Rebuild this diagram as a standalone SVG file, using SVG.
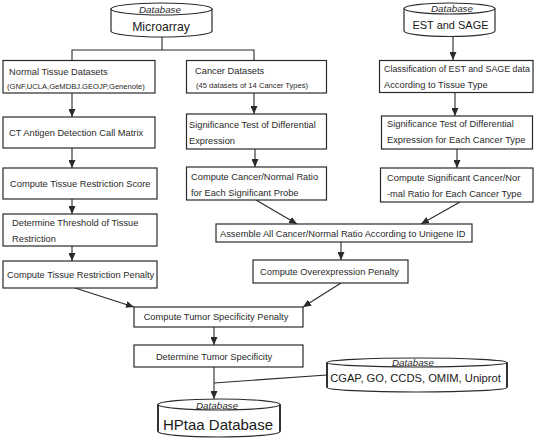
<svg xmlns="http://www.w3.org/2000/svg" width="535" height="438" viewBox="0 0 535 438">
<style>
.bg{fill:#fff}
.box{fill:#fff;stroke:#2a2a2a;stroke-width:1.2}
.cyl{fill:#fff;stroke:#2a2a2a;stroke-width:1.2}
.side{stroke:#2a2a2a;stroke-width:1.8;fill:none}
.t{font-family:"Liberation Sans",Arial,sans-serif;font-size:9.3px;fill:#2a2a2a}
.s{font-family:"Liberation Sans",Arial,sans-serif;font-size:7.6px;fill:#2a2a2a}
.db{font-family:"Liberation Sans",Arial,sans-serif;font-style:italic;font-size:9.8px;fill:#2a2a2a;text-anchor:middle}
.big{font-family:"Liberation Sans",Arial,sans-serif;fill:#1a1a1a;text-anchor:middle}
.c{text-anchor:middle}
.ln{stroke:#2a2a2a;stroke-width:1.1;fill:none}
.ar{stroke:#2a2a2a;stroke-width:1.1;fill:none;marker-end:url(#ah)}
</style>
<defs>
<marker id="ah" markerUnits="userSpaceOnUse" markerWidth="8" markerHeight="7" refX="8" refY="3.5" orient="auto">
<path d="M0,0 L8,3.5 L0,7 z" fill="#2a2a2a"/>
</marker>
</defs>
<rect class="bg" x="0" y="0" width="535" height="438"/>

<g id="connectors">
<polyline class="ln" points="162,37 162,50"/>
<polyline class="ln" points="72,60 72,50 254,50 254,60"/>
<line class="ar" x1="72" y1="93" x2="72" y2="117"/>
<line class="ar" x1="72" y1="148" x2="72" y2="168"/>
<line class="ar" x1="72" y1="199" x2="72" y2="214"/>
<line class="ar" x1="72" y1="246" x2="72" y2="261"/>
<line class="ar" x1="254" y1="93" x2="254" y2="114"/>
<line class="ar" x1="255" y1="149" x2="255" y2="167"/>
<line class="ar" x1="453" y1="37" x2="453" y2="60"/>
<line class="ar" x1="455" y1="92" x2="455" y2="116"/>
<line class="ar" x1="457" y1="149" x2="457" y2="168"/>
<line class="ar" x1="256" y1="200" x2="297" y2="224"/>
<line class="ar" x1="460" y1="202" x2="421" y2="224"/>
<line class="ar" x1="341" y1="242" x2="341" y2="260"/>
<line class="ar" x1="341" y1="283" x2="303" y2="307"/>
<line class="ar" x1="72" y1="287" x2="134" y2="307"/>
<line class="ar" x1="214" y1="327" x2="214" y2="345"/>
<line class="ar" x1="214" y1="367" x2="214" y2="399"/>
<line class="ln" x1="327" y1="375" x2="214" y2="383"/>
</g>

<g id="microarray">
<path class="cyl" d="M111,9 L111,31 A50.5,6 0 0 0 212,31 L212,9"/>
<ellipse class="cyl" cx="161.5" cy="9" rx="50.5" ry="6"/>
<text class="db" x="160" y="13">Database</text>
<text class="big" x="161" y="31" font-size="12.2">Microarray</text>
</g>

<g id="est-sage">
<path class="cyl" d="M404,8.5 L404,31 A45.5,5.5 0 0 0 495,31 L495,8.5"/>
<ellipse class="cyl" cx="449.5" cy="8.5" rx="45.5" ry="5.5"/>
<text class="db" x="452" y="12">Database</text>
<text class="big" x="450.5" y="29" font-size="11">EST and SAGE</text>
</g>

<g id="normal-tissue">
<rect class="box" x="3" y="60.5" width="152" height="32.5"/>
<text class="t" x="9" y="75">Normal Tissue Datasets</text>
<text class="s" x="7" y="89">(GNF,UCLA,GeMDBJ.GEOJP,Genenote)</text>
</g>

<g id="cancer-datasets">
<rect class="box" x="186.5" y="60.5" width="140" height="32.5"/>
<text class="t" x="195" y="74">Cancer Datasets</text>
<text class="s" x="196" y="88">(45 datasets of 14 Cancer Types)</text>
</g>

<g id="classification">
<rect class="box" x="379.5" y="60.5" width="153.5" height="32"/>
<text class="t" x="384" y="72" style="font-size:8.9px">Classification of EST and SAGE data</text>
<text class="t" x="384" y="88">According to Tissue Type</text>
</g>

<g id="ct-antigen">
<rect class="box" x="3" y="117" width="152" height="31"/>
<text class="t" x="9" y="135.5">CT Antigen Detection Call Matrix</text>
</g>

<g id="sig-test">
<rect class="box" x="186.5" y="114" width="140" height="35"/>
<text class="t" x="189" y="128">Significance Test of Differential</text>
<text class="t" x="189" y="144">Expression</text>
</g>

<g id="sig-test-right">
<rect class="box" x="381.5" y="116" width="151" height="33"/>
<text class="t" x="387" y="127">Significance Test of Differential</text>
<text class="t" x="387" y="143">Expression for Each Cancer Type</text>
</g>

<g id="tissue-score">
<rect class="box" x="3" y="168" width="154" height="31"/>
<text class="t" x="10" y="187">Compute Tissue Restriction Score</text>
</g>

<g id="cancer-normal-ratio">
<rect class="box" x="186.5" y="167" width="140" height="33"/>
<text class="t" x="191" y="180">Compute Cancer/Normal Ratio</text>
<text class="t" x="191" y="196">for Each Significant Probe</text>
</g>

<g id="sig-ratio">
<rect class="box" x="380.5" y="168" width="152.5" height="34"/>
<text class="t" x="387" y="181">Compute Significant Cancer/Nor</text>
<text class="t" x="387" y="197">-mal Ratio for Each Cancer Type</text>
</g>

<g id="threshold">
<rect class="box" x="3" y="214" width="154" height="32"/>
<text class="t" x="12" y="226">Determine Threshold of Tissue</text>
<text class="t" x="12" y="242">Restriction</text>
</g>

<g id="assemble">
<rect class="box" x="216" y="224" width="256" height="18"/>
<text class="t" x="220" y="236.5">Assemble All Cancer/Normal Ratio According to Unigene ID</text>
</g>

<g id="tissue-penalty">
<rect class="box" x="3" y="261" width="154" height="27"/>
<text class="t" x="7" y="278">Compute Tissue Restriction Penalty</text>
</g>

<g id="overexpression">
<rect class="box" x="253" y="260" width="155" height="23"/>
<text class="t" x="260" y="275">Compute Overexpression Penalty</text>
</g>

<g id="tumor-penalty">
<rect class="box" x="134" y="307" width="169" height="20"/>
<text class="t c" x="216" y="320">Compute Tumor Specificity Penalty</text>
</g>

<g id="tumor-specificity">
<rect class="box" x="134" y="345" width="169" height="22"/>
<text class="t c" x="214" y="360">Determine Tumor Specificity</text>
</g>

<g id="cgap">
<path class="cyl" d="M327,362.5 L327,387.5 A90,4.5 0 0 0 507,387.5 L507,362.5"/>
<ellipse class="cyl" cx="417" cy="362.5" rx="90" ry="4.5"/>
<line class="side" x1="327" y1="362.5" x2="327" y2="387.5"/>
<line class="side" x1="507" y1="362.5" x2="507" y2="387.5"/>
<text class="db" x="413" y="366">Database</text>
<text class="big" x="415.5" y="381.5" font-size="11.2">CGAP, GO, CCDS, OMIM, Uniprot</text>
</g>

<g id="hptaa">
<path class="cyl" d="M158,404.5 L158,431.5 A61,5.5 0 0 0 280,431.5 L280,404.5"/>
<ellipse class="cyl" cx="219" cy="404.5" rx="61" ry="5.5"/>
<line class="side" x1="158" y1="404.5" x2="158" y2="431.5"/>
<line class="side" x1="280" y1="404.5" x2="280" y2="431.5"/>
<text class="db" x="217" y="409">Database</text>
<text class="big" x="218" y="429.5" font-size="15">HPtaa Database</text>
</g>
</svg>
